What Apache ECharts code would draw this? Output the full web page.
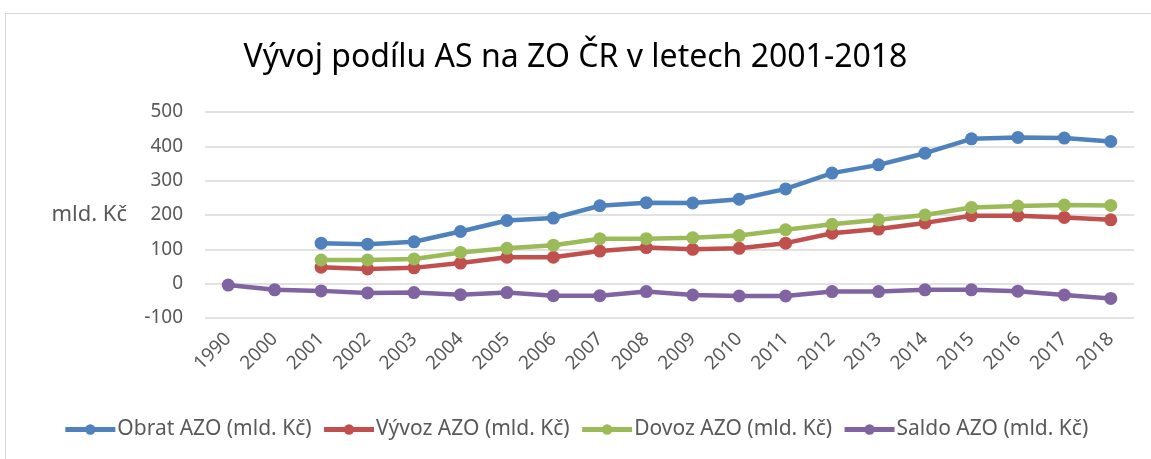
<!DOCTYPE html>
<html>
<head>
<meta charset="utf-8">
<script src="https://cdn.jsdelivr.net/npm/echarts@6/dist/echarts.min.js"></script>
<style>
  html, body { margin: 0; padding: 0; background: #fff; }
  .frame {
    position: absolute; left: 5px; top: 13px; right: -2px; bottom: -2px;
    border-left: 1px solid #d9d9d9; border-top: 1px solid #d9d9d9;
  }
  #chart { position: absolute; left: 0; top: 0; width: 1151px; height: 459px; }
</style>
</head>
<body>
<div class="frame"></div>
<div id="chart"></div>
<script>
const years = ['1990', '2000', '2001', '2002', '2003', '2004', '2005', '2006', '2007', '2008',
  '2009', '2010', '2011', '2012', '2013', '2014', '2015', '2016', '2017', '2018']
const obrat = [null, null, 118, 115, 122, 152, 184, 191, 227, 236, 235, 246, 276, 322, 346, 380, 422, 426, 424, 414]
const vyvoz = [null, null, 48, 43, 46, 60, 77, 77, 95, 105, 100, 103, 118, 147, 159, 177, 198, 198, 193, 186]
const dovoz = [null, null, 69, 69, 72, 91, 103, 112, 131, 131, 134, 140, 157, 173, 186, 200, 222, 226, 229, 228]
const saldo = [-4, -18, -21, -27, -26, -32, -26, -35, -35, -23, -33, -36, -36, -23, -23, -18, -18, -22, -33, -43]
const yTicks = [-100, 0, 100, 200, 300, 400, 500]

const font = 'Noto Sans'

const chart = echarts.init(document.getElementById('chart'))

const makeSeries = (name, data, color) => ({
  name: name,
  type: 'line',
  data: data,
  symbol: 'circle',
  symbolSize: 13,
  lineStyle: { width: 4.5, color: color },
  itemStyle: { color: color },
  emphasis: { disabled: true }
})

chart.setOption({
  animation: false,
  title: {
    text: 'Vývoj podílu AS na ZO ČR v letech 2001-2018',
    left: 'center',
    top: 37,
    textStyle: { fontFamily: font, fontSize: 32, fontWeight: 'normal', color: '#000' }
  },
  grid: { left: 205, right: 17, top: 112, bottom: 141 },
  legend: {
    bottom: 14,
    left: 'center',
    itemWidth: 50,
    itemHeight: 13,
    itemGap: 10,
    lineStyle: { width: 5 },
    textStyle: { fontFamily: font, fontSize: 21, color: '#595959', padding: [0, 0, 0, -3] }
  },
  xAxis: {
    type: 'category',
    data: years,
    axisLine: { show: false },
    axisTick: { show: false },
    axisLabel: {
      rotate: 45,
      margin: 18,
      interval: 0,
      fontFamily: font,
      fontSize: 19,
      color: '#595959'
    }
  },
  yAxis: {
    type: 'value',
    min: yTicks[0],
    max: yTicks[yTicks.length - 1],
    interval: 100,
    name: 'mld. Kč',
    nameLocation: 'middle',
    nameRotate: 0,
    nameGap: 78,
    nameTextStyle: { fontFamily: font, fontSize: 22, color: '#595959' },
    axisLabel: { fontFamily: font, fontSize: 19, color: '#595959', margin: 22 },
    splitLine: { lineStyle: { color: '#d9d9d9', width: 1.5 } }
  },
  series: [
    makeSeries('Obrat AZO (mld. Kč)', obrat, '#4f81bd'),
    makeSeries('Vývoz AZO (mld. Kč)', vyvoz, '#c0504d'),
    makeSeries('Dovoz AZO (mld. Kč)', dovoz, '#9bbb59'),
    makeSeries('Saldo AZO (mld. Kč)', saldo, '#8064a2')
  ]
})
</script>
</body>
</html>
